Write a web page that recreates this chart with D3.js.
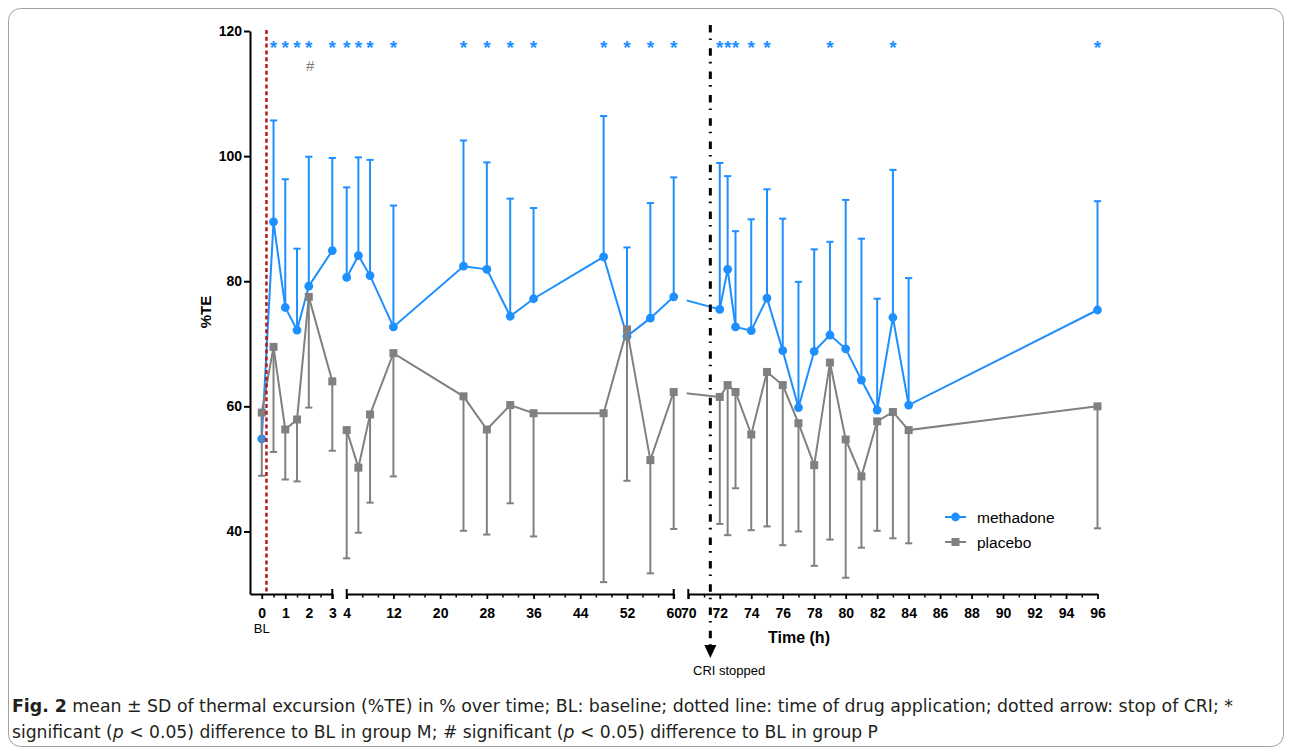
<!DOCTYPE html>
<html><head><meta charset="utf-8">
<script src="https://cdn.jsdelivr.net/npm/d3@7"></script>
<style>
body{margin:0;background:#fff;}
svg{display:block;}
</style></head>
<body>
<svg id="chart" width="1292" height="751"></svg>
<script>
// ---------- DATA ----------
const times = [0,0.5,1,1.5,2,3, 4,6,8,12,24,28,32,36,48,52,56,60, 72,72.5,73,74,75,76,77,78,79,80,81,82,83,84,96];
const methadoneMean = [54.8,89.5,75.8,72.2,79.2,84.9, 80.6,84.1,80.9,72.7,82.4,81.9,74.4,77.2,83.9,71.2,74.1,77.5, 75.5,81.9,72.7,72.1,77.3,68.9,59.8,68.8,71.4,69.2,64.2,59.4,74.2,60.2,75.4];
const methadoneSD   = [4.6,16.2,20.5,13.0,20.7,14.8, 14.4,15.7,18.5,19.4,20.1,17.1,18.8,14.5,22.5,14.2,18.4,19.1, 23.4,14.9,15.3,17.8,17.4,21.1,20.1,16.3,14.9,23.8,22.6,17.8,23.6,20.3,17.4];
const placeboMean   = [59.0,69.5,56.3,57.9,77.5,64.0, 56.2,50.2,58.7,68.5,61.6,56.3,60.2,58.9,58.9,72.3,51.4,62.3, 61.5,63.4,62.3,55.5,65.5,63.4,57.3,50.6,67.0,54.7,48.8,57.6,59.1,56.2,60.0];
const placeboSD     = [10.1,16.8,8.0,9.9,17.7,11.1, 20.5,10.4,14.1,19.7,21.5,16.8,15.7,19.7,27.0,24.2,18.1,21.9, 20.3,24.0,15.4,15.3,24.7,25.6,17.3,16.1,28.3,22.1,11.4,17.5,20.2,18.1,19.5];
const methadoneSigTimes = [0.5,1,1.5,2,3,4,6,8,12,24,28,32,36,48,52,56,60,72,72.5,73,74,75,79,83,96];
const placeboSigTimes = [2];
const seg1Ticks = [0,1,2,3];
const seg2Ticks = [4,12,20,28,36,44,52,60];
const seg3Ticks = [70,72,74,76,78,80,82,84,86,88,90,92,94,96];
const yTicks = [40,60,80,100,120];
const drugTime = 0.2;
const criStopTime = 71.4;

// ---------- LAYOUT ----------
const svg = d3.select("#chart");
const FONT = "'Liberation Sans', Arial, Helvetica, sans-serif";
const BLUE = "#1e8fff", GRAY = "#808080";

const segs = [
  {domain:[-0.5,3], range:[250,332.3]},
  {domain:[4,60],   range:[346.7,673.7]},
  {domain:[70,96],  range:[688.3,1097.5]}
].map(s => ({...s, scale: d3.scaleLinear().domain(s.domain).range(s.range)}));
function segOf(t){ return t <= 3 ? 0 : (t <= 60 ? 1 : 2); }
function xs(t){ return segs[segOf(t)].scale(t); }

const y = d3.scaleLinear().domain([30,120]).range([594,31]);
const axisY = 594;

// ---------- FRAME ----------
svg.append("rect").attr("x",8.5).attr("y",8.5).attr("width",1275).attr("height",738)
  .attr("rx",12).attr("fill","none").attr("stroke","#a0a0a0").attr("stroke-width",1);

// ---------- AXES ----------
const yAx = svg.append("g").attr("transform","translate(250,0)")
  .call(d3.axisLeft(y).tickValues(yTicks).tickSize(6).tickSizeOuter(0).tickPadding(2).tickFormat(d3.format("d")));
yAx.select(".domain").attr("stroke","#000").attr("stroke-width",2);
yAx.selectAll(".tick line").attr("stroke","#000").attr("stroke-width",2);
yAx.selectAll(".tick text").attr("font-family",FONT).attr("font-size",14).attr("font-weight","bold").attr("fill","#000");

const majorsList = [seg1Ticks, seg2Ticks, seg3Ticks];
function minorsFor(i){
  const m = majorsList[i], out = [];
  if (i === 1) { for (let k=0;k<m.length-1;k++){ const d=(m[k+1]-m[k])/3; out.push(m[k]+d, m[k]+2*d);} }
  else { for (let k=0;k<m.length-1;k++) out.push((m[k]+m[k+1])/2); }
  return out;
}
segs.forEach((s,i) => {
  const g = svg.append("g").attr("transform",`translate(0,${axisY})`);
  const ax = g.append("g").call(d3.axisBottom(s.scale).tickValues(majorsList[i]).tickFormat(d3.format("d"))
    .tickSize(5).tickSizeOuter(0).tickPadding(9));
  ax.select(".domain").attr("stroke","#000").attr("stroke-width",2);
  ax.selectAll(".tick line").attr("stroke","#000").attr("stroke-width",1.8);
  ax.selectAll(".tick text").attr("font-family",FONT).attr("font-size",14).attr("font-weight","bold").attr("fill","#000");
  const mn = g.append("g").call(d3.axisBottom(s.scale).tickValues(minorsFor(i)).tickSize(3.5).tickFormat(""));
  mn.select(".domain").remove();
  mn.selectAll(".tick line").attr("stroke","#000").attr("stroke-width",1.5);
});
// break caps
[[0,1],[1,0],[1,1],[2,0]].forEach(([i,e]) => {
  const xx = segs[i].scale(segs[i].domain[e]);
  svg.append("line").attr("x1",xx).attr("x2",xx).attr("y1",axisY-5).attr("y2",axisY+5)
    .attr("stroke","#000").attr("stroke-width",2);
});

svg.append("text").attr("x",xs(0)).attr("y",633).attr("text-anchor","middle")
  .attr("font-family",FONT).attr("font-size",13).text("BL");
svg.append("text").attr("x",799).attr("y",643).attr("text-anchor","middle")
  .attr("font-family",FONT).attr("font-size",16).attr("font-weight","bold").text("Time (h)");
svg.append("text").attr("transform","translate(211,312) rotate(-90)").attr("text-anchor","middle")
  .attr("font-family",FONT).attr("font-size",15).attr("font-weight","bold").text("%TE");

// ---------- SERIES ----------
const rows = times.map((t,i)=>({t, seg:segOf(t), m:methadoneMean[i], ms:methadoneSD[i], p:placeboMean[i], ps:placeboSD[i]}));

svg.append("defs").append("clipPath").attr("id","bridgeClip")
  .append("rect").attr("x",segs[2].range[0]-1.6).attr("y",0).attr("width",200).attr("height",751);

function drawSeries(key, sdKey, color, dir, marker){
  const g = svg.append("g");
  rows.forEach(r => {
    const x = xs(r.t), y0 = y(r[key]), y1 = y(r[key] + dir*r[sdKey]);
    g.append("line").attr("x1",x).attr("x2",x).attr("y1",y0).attr("y2",y1).attr("stroke",color).attr("stroke-width",2);
    g.append("line").attr("x1",x-3.6).attr("x2",x+3.6).attr("y1",y1).attr("y2",y1).attr("stroke",color).attr("stroke-width",2);
  });
  const line = d3.line().x(d=>xs(d.t)).y(d=>y(d[key]));
  [0,1,2].forEach(si => {
    g.append("path").datum(rows.filter(r=>r.seg===si)).attr("d",line)
      .attr("fill","none").attr("stroke",color).attr("stroke-width",2);
  });
  const r60 = rows.find(r=>r.t===60), r72 = rows.find(r=>r.t===72);
  g.append("path").datum([r60,r72]).attr("d",line).attr("clip-path","url(#bridgeClip)")
    .attr("fill","none").attr("stroke",color).attr("stroke-width",2);
  rows.forEach(r => {
    const x = xs(r.t), yy = y(r[key]);
    if (marker === "circle") g.append("circle").attr("cx",x).attr("cy",yy).attr("r",4.4).attr("fill",color);
    else g.append("rect").attr("x",x-4).attr("y",yy-4).attr("width",8).attr("height",8).attr("fill",color);
  });
}
drawSeries("m","ms",BLUE,1,"circle");
drawSeries("p","ps",GRAY,-1,"square");

// significance markers
svg.append("g").selectAll("text").data(methadoneSigTimes).join("text")
  .attr("x",d=>xs(d)).attr("y",53.5).attr("text-anchor","middle")
  .attr("font-family",FONT).attr("font-size",19).attr("font-weight","bold").attr("fill",BLUE).text("*");
svg.append("g").selectAll("text").data(placeboSigTimes).join("text")
  .attr("x",d=>xs(d)+1.5).attr("y",71).attr("text-anchor","middle")
  .attr("font-family",FONT).attr("font-size",15).attr("fill",GRAY).text("#");

// drug application line
svg.append("line").attr("x1",xs(drugTime)).attr("x2",xs(drugTime)).attr("y1",30).attr("y2",axisY)
  .attr("stroke","#b31b1b").attr("stroke-width",2.5).attr("stroke-dasharray","4,2.8");

// CRI stop arrow
const xc = xs(criStopTime);
svg.append("line").attr("x1",xc).attr("x2",xc).attr("y1",25).attr("y2",646)
  .attr("stroke","#000").attr("stroke-width",3).attr("stroke-dasharray","7.5,6,1.6,8.2");
svg.append("path").attr("d",`M${xc-6},645 L${xc+6},645 L${xc},658 Z`).attr("fill","#000");
svg.append("text").attr("x",693).attr("y",675).attr("font-family",FONT).attr("font-size",13).text("CRI stopped");

// legend
const lg = svg.append("g");
[["methadone",BLUE,"circle",517],["placebo",GRAY,"square",542]].forEach(([name,c,mk,ly]) => {
  lg.append("line").attr("x1",945).attr("x2",966).attr("y1",ly).attr("y2",ly).attr("stroke",c).attr("stroke-width",2);
  if (mk==="circle") lg.append("circle").attr("cx",955.5).attr("cy",ly).attr("r",4.4).attr("fill",c);
  else lg.append("rect").attr("x",951.5).attr("y",ly-4).attr("width",8).attr("height",8).attr("fill",c);
  lg.append("text").attr("x",977).attr("y",ly+5.5).attr("font-family",FONT).attr("font-size",15.5).attr("fill","#000").text(name);
});

// caption
const CAP = "'Liberation Sans Narrow','DejaVu Sans Condensed','Roboto Condensed','Open Sans', sans-serif";
const c1 = svg.append("text").attr("x",12).attr("y",712).attr("font-family",CAP).attr("font-size",17.5).attr("fill","#231f20")
  .attr("textLength",1221).attr("lengthAdjust","spacingAndGlyphs");
c1.append("tspan").attr("font-weight","bold").text("Fig. 2");
c1.append("tspan").text(" mean ± SD of thermal excursion (%TE) in % over time; BL: baseline; dotted line: time of drug application; dotted arrow: stop of CRI; *");
const c2 = svg.append("text").attr("x",12).attr("y",738).attr("font-family",CAP).attr("font-size",17.5).attr("fill","#231f20")
  .attr("textLength",866).attr("lengthAdjust","spacingAndGlyphs");
c2.append("tspan").text("significant (");
c2.append("tspan").attr("font-style","italic").text("p");
c2.append("tspan").text(" < 0.05) difference to BL in group M; # significant (");
c2.append("tspan").attr("font-style","italic").text("p");
c2.append("tspan").text(" < 0.05) difference to BL in group P");
</script>
</body></html>
